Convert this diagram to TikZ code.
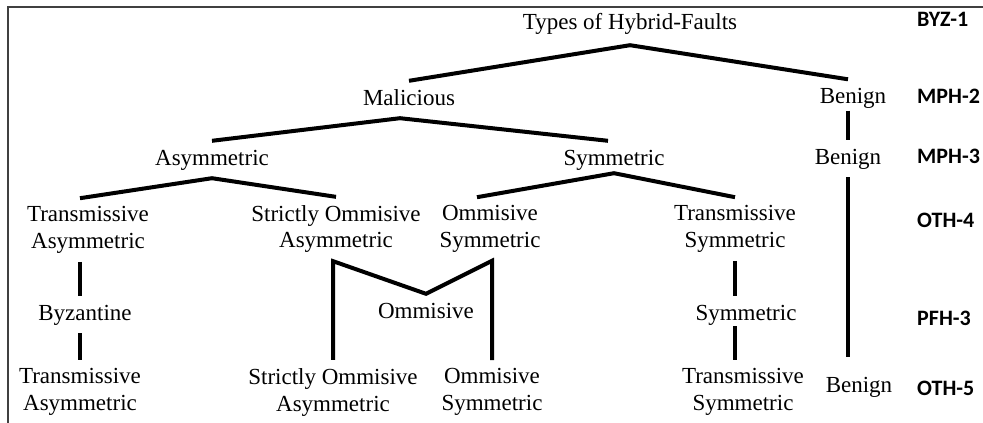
\documentclass[tikz,border=0pt]{standalone}
\usepackage{fontspec}
\setmainfont{Liberation Serif}
\newfontfamily\tagfont{Carlito}
\begin{document}
\begin{tikzpicture}[x=1pt,y=1pt]
\tikzstyle{every node}+=[inner xsep=2pt, inner ysep=8pt, font=\fontsize{23}{27}\selectfont]
\tikzstyle{one}=[text height=16pt, text depth=5pt]
\tikzstyle{two}=[align=center]
\tikzstyle{tag}=[anchor=base west, inner sep=0pt, font=\tagfont\bfseries\fontsize{22}{26}\selectfont]
\tikzstyle{edge}=[line width=4pt]
\useasboundingbox (0,0) rectangle (983,-423);
\draw [black!75, line width=1.2pt] (8,-423) -- (8,-7) -- (983,-7);
% fault classes
\node [one] (title) at (630,-23.5) {Types of Hybrid-Faults};
\node [one] (mal) at (409,-99.5) {Malicious};
\node [one] (ben1) at (853,-98) {Benign};
\node [one] (asym) at (212,-159.5) {Asymmetric};
\node [one] (sym) at (614,-159.5) {Symmetric};
\node [one] (ben2) at (848,-158.5) {Benign};
\node [two] (tasym1) at (88,-230) {Transmissive\\Asymmetric};
\node [two] (soasym1) at (336,-229) {Strictly Ommisive\\Asymmetric};
\node [two] (osym1) at (490,-229) {Ommisive\\Symmetric};
\node [two] (tsym1) at (735,-229) {Transmissive\\Symmetric};
\node [one] (byz) at (85,-314.5) {Byzantine};
\node [one] (omm) at (426,-312.5) {Ommisive};
\node [one] (symp) at (746,-314.5) {Symmetric};
\node [two] (tasym2) at (80,-392) {Transmissive\\Asymmetric};
\node [two] (soasym2) at (333,-392) {Strictly Ommisive\\Asymmetric};
\node [two] (osym2) at (492,-392) {Ommisive\\Symmetric};
\node [two] (tsym2) at (743,-392) {Transmissive\\Symmetric};
\node [one] (ben3) at (859,-386.5) {Benign};
% model tags
\node [tag] (byzt) at (917,-26) {BYZ-1};
\node [tag] (mph2) at (917,-103) {MPH-2};
\node [tag] (mph3) at (917,-163) {MPH-3};
\node [tag] (oth4) at (917,-227) {OTH-4};
\node [tag] (pfh3) at (917,-325) {PFH-3};
\node [tag] (oth5) at (917,-395) {OTH-5};
% tree
\draw [edge] (mal.north) -- ([yshift=-3pt]title.south) -- ([xshift=-5pt]ben1.north);
\draw [edge] ([yshift=6pt]ben1.south -| ben2.north) -- (ben2.north);
\draw [edge] (asym.north) -- ([xshift=-9pt]mal.south) -- ([xshift=-6pt]sym.north);
\draw [edge] (tasym1.north -| tasym2.north) -- (asym.south) -- (soasym1.north);
\draw [edge] ([xshift=-13pt]osym1.north) -- ([yshift=5pt]sym.south) -- (tsym1.north);
\draw [edge] (ben2.south) -- ([yshift=11pt]ben3.north -| ben2.south);
\draw [edge] (tasym1.south -| tasym2.north) -- (byz.north -| tasym2.north);
\draw [edge] (byz.south -| tasym2.north) -- (tasym2.north);
\draw [edge] (soasym2.north) -- (soasym1.south -| soasym2.north) -- (omm.north) -- (osym1.south -| osym2.north) -- (osym2.north);
\draw [edge] (tsym1.south) -- (symp.north -| tsym1.south);
\draw [edge] ([yshift=7pt]symp.south -| tsym1.south) -- (tsym2.north -| tsym1.south);
\end{tikzpicture}
\end{document}
